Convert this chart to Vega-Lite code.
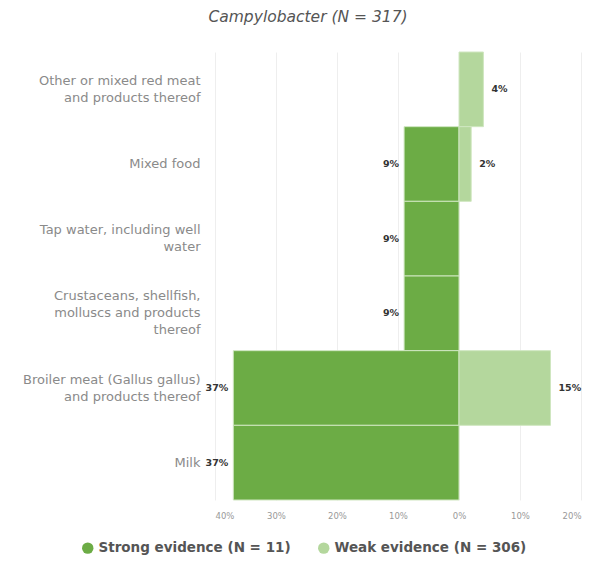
{
  "$schema": "https://vega.github.io/schema/vega-lite/v6.json",
  "width": 366,
  "height": 448,
  "padding": {"left": 22, "top": 10, "right": 0, "bottom": 5},
  "background": "white",
  "title": {"text": "Campylobacter (N = 317)", "fontStyle": "italic", "fontWeight": "normal", "font": "DejaVu Sans", "fontSize": 15.5, "color": "#555555", "anchor": "middle", "dx": -90, "offset": 26},
  "config": {"view": {"stroke": null}, "font": "DejaVu Sans"},
  "data": {"values": [
    {"category": "Other or mixed red meat and products thereof", "evidence": "Weak evidence (N = 306)", "pct": 4, "side": 1},
    {"category": "Mixed food", "evidence": "Strong evidence (N = 11)", "pct": 9, "side": -1},
    {"category": "Mixed food", "evidence": "Weak evidence (N = 306)", "pct": 2, "side": 1},
    {"category": "Tap water, including well water", "evidence": "Strong evidence (N = 11)", "pct": 9, "side": -1},
    {"category": "Crustaceans, shellfish, molluscs and products thereof", "evidence": "Strong evidence (N = 11)", "pct": 9, "side": -1},
    {"category": "Broiler meat (Gallus gallus) and products thereof", "evidence": "Strong evidence (N = 11)", "pct": 37, "side": -1},
    {"category": "Broiler meat (Gallus gallus) and products thereof", "evidence": "Weak evidence (N = 306)", "pct": 15, "side": 1},
    {"category": "Milk", "evidence": "Strong evidence (N = 11)", "pct": 37, "side": -1}
  ]},
  "transform": [
    {"calculate": "datum.side * datum.pct", "as": "value"},
    {"calculate": "datum.pct + '%'", "as": "lbl"}
  ],
  "encoding": {
    "y": {
      "field": "category", "type": "nominal",
      "sort": ["Other or mixed red meat and products thereof", "Mixed food", "Tap water, including well water", "Crustaceans, shellfish, molluscs and products thereof", "Broiler meat (Gallus gallus) and products thereof", "Milk"],
      "scale": {"paddingInner": 0, "paddingOuter": 0},
      "axis": {
        "title": null, "domain": false, "ticks": false, "labelPadding": 15,
        "labelFontSize": 13, "labelColor": "#8a8a8a", "labelLineHeight": 17, "labelLimit": 300,
        "labelOffset": {
          "condition": [
            {"test": "datum.value == 'Crustaceans, shellfish, molluscs and products thereof'", "value": -17},
            {"test": "datum.value == 'Mixed food' || datum.value == 'Milk'", "value": 0}
          ],
          "value": -8.5
        },
        "labelExpr": "datum.value == 'Other or mixed red meat and products thereof' ? ['Other or mixed red meat', 'and products thereof'] : datum.value == 'Tap water, including well water' ? ['Tap water, including well', 'water'] : datum.value == 'Crustaceans, shellfish, molluscs and products thereof' ? ['Crustaceans, shellfish,', 'molluscs and products', 'thereof'] : datum.value == 'Broiler meat (Gallus gallus) and products thereof' ? ['Broiler meat (Gallus gallus)', 'and products thereof'] : datum.value"
      }
    }
  },
  "layer": [
    {
      "mark": {"type": "bar", "stroke": "#cfe6c0", "strokeWidth": 1},
      "encoding": {
        "x": {
          "field": "value", "type": "quantitative",
          "scale": {"domain": [-40, 20], "nice": false},
          "axis": {
            "title": null, "domain": false, "ticks": false, "values": [-40, -30, -20, -10, 0, 10, 20],
            "labelExpr": "abs(datum.value) + '%'", "labelFontSize": 8.5, "labelColor": "#999999", "labelPadding": 11,
            "grid": true, "gridColor": "#eeeeee", "gridWidth": 1
          }
        },
        "color": {
          "field": "evidence", "type": "nominal",
          "scale": {"domain": ["Strong evidence (N = 11)", "Weak evidence (N = 306)"], "range": ["#6cac45", "#b4d79d"]},
          "legend": {
            "title": null, "orient": "none", "direction": "horizontal", "legendX": -134, "legendY": 489,
            "symbolType": "circle", "symbolSize": 130, "symbolStrokeWidth": 0,
            "labelFont": "DejaVu Sans", "labelFontSize": 13.5, "labelFontWeight": "bold", "labelColor": "#555555", "columnPadding": 26, "labelLimit": 300
          }
        }
      }
    },
    {
      "transform": [{"filter": "datum.side < 0"}],
      "mark": {"type": "text", "align": "right", "dx": -5, "fontSize": 9.5, "fontWeight": "bold", "color": "#333333"},
      "encoding": {
        "x": {"field": "value", "type": "quantitative"},
        "text": {"field": "lbl", "type": "nominal"}
      }
    },
    {
      "transform": [{"filter": "datum.side > 0"}],
      "mark": {"type": "text", "align": "left", "dx": 8, "fontSize": 9.5, "fontWeight": "bold", "color": "#333333"},
      "encoding": {
        "x": {"field": "value", "type": "quantitative"},
        "text": {"field": "lbl", "type": "nominal"}
      }
    }
  ]
}
